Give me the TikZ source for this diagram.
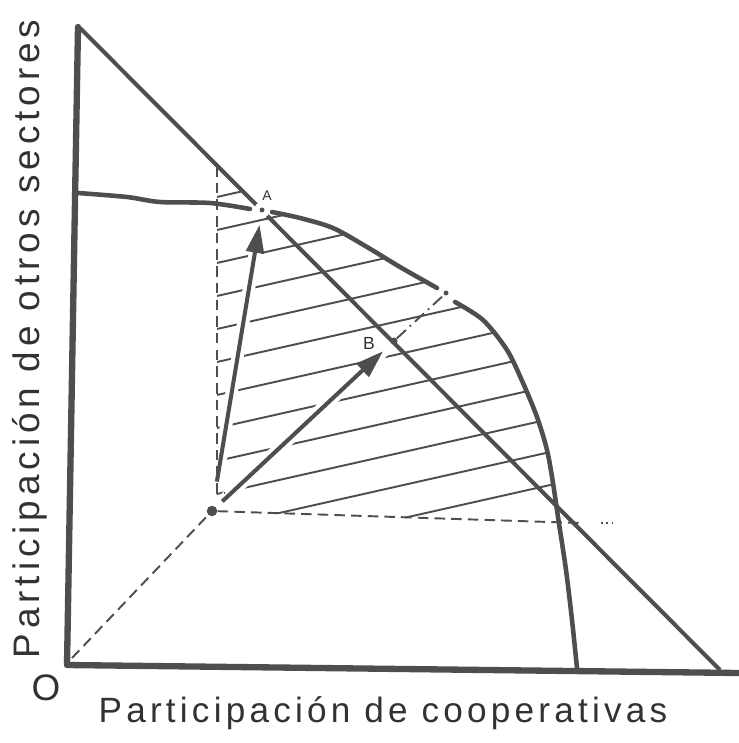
\documentclass[tikz,border=0pt]{standalone}
\usepackage{fontspec}
\usepackage{tikz}
\usetikzlibrary{arrows.meta}
\newfontfamily\lettering[LetterSpace=12]{Liberation Sans}
\newfontfamily\letteringwide[LetterSpace=13.5]{Liberation Sans}
\definecolor{ink}{RGB}{78,78,78}
\definecolor{textink}{RGB}{50,50,50}

\tikzset{
    axisline/.style={draw=ink,line width=3.6pt,line cap=round,line join=round},
    diagline/.style={draw=ink,line width=2.3pt},
    frontier/.style={draw=ink,line width=2.6pt,line cap=round},
    hatchline/.style={draw=ink,line width=1.1pt},
    guide/.style={draw=ink,line width=1.1pt,dash pattern=on 6pt off 3.5pt},
    dashdot/.style={draw=ink,line width=1.1pt,dash pattern=on 7pt off 3pt on 1pt off 3pt},
    vector/.style={draw=ink,line width=2.3pt,-{Triangle[length=16pt,width=10pt]},
        preaction={draw=white,line width=7pt,-}},
    point/.style={circle,fill=ink,inner sep=0pt},
    lbl/.style={text=textink,inner sep=0pt}
}

\begin{document}
\begin{tikzpicture}[x=0.02cm,y=-0.02cm]
    \useasboundingbox (0,0) rectangle (739,743);

    % corners of the diagram
    \coordinate (O) at (67,665);
    \coordinate (Ytop) at (78,27);
    \coordinate (Xend) at (739,673);
    \coordinate (Dtop) at (80,28);
    \coordinate (Dend) at (720,670);
    \coordinate (gap) at (446,293);

    % hatched area
    \begin{scope}
        \clip (217,165) -- (262,210) -- (272,212) -- plot[smooth] coordinates {(272,212) (300,218) (333,228) (367,247) (400,267) (437,288) (455,302) (483,320) (507,350) (523,383) (537,417) (547,450) (553,483) (558,517)} -- (560,523) -- (217,512) -- cycle;
        \foreach \k in {0,...,11}
            \draw[hatchline] (200,{200.8+33*\k}) -- ++(420,-94.5);
    \end{scope}

    \node[point,minimum size=6pt] (P) at (212,511) {};
    \node[circle,inner sep=0pt,minimum size=3pt] (A) at (262,210) {};
    \node[point,minimum size=4pt] (B) at (394,341) {};

    \draw[vector,shorten <=17pt,shorten >=8.5pt] (P.center) -- (A.center);
    \draw[vector,shorten <=8pt,shorten >=8.5pt] (P.center) -- (B.center);

    % dashed guides
    \draw[guide] (72,658) -- (P);
    \draw[guide] (P) -- (580,523);
    \draw[draw=ink,line width=1.1pt,dotted] (601,523) -- (612,523);
    \draw[guide] (217,166) -- (217,493) -- (225,493);
    \draw[dashdot] (B) -- (gap);

    % axes and lines
    \draw[axisline] (Ytop) -- (O) -- (Xend);
    \draw[diagline] (Dtop) -- (Dend);
    \draw[frontier] plot[smooth] coordinates {(78,193) (127,197) (160,202) (210,203) (250,209)};
    \draw[frontier] plot[smooth] coordinates {(272,212) (300,218) (333,228) (367,247) (400,267) (437,288)};
    \draw[frontier] plot[smooth] coordinates {(455,302) (483,320) (507,350) (523,383) (537,417) (547,450) (553,483) (558,517) (566,570) (572,620) (577,668)};

    % points
    \fill[white] (A) circle (4.5pt);
    \fill[ink] (A) circle (1.4pt);
    \fill[ink] (gap) circle (1.4pt);

    % labels
    \node[lbl,font=\lettering\fontsize{8}{9}\selectfont] (labA) at (267,196) {A};
    \node[lbl,font=\lettering\fontsize{10}{12}\selectfont] (labB) at (369,343) {B};
    \node[lbl,font=\lettering\fontsize{21}{24}\selectfont] (labO) at (46,688) {O};
    \node[lbl,font=\lettering\fontsize{20}{24}\selectfont,anchor=base] (xlab) at (383,722) {Participación de cooperativas};
    \node[lbl,font=\letteringwide\fontsize{21}{24}\selectfont,rotate=90] (ylab) at (30,339) {Participación de otros sectores};
\end{tikzpicture}
\end{document}
